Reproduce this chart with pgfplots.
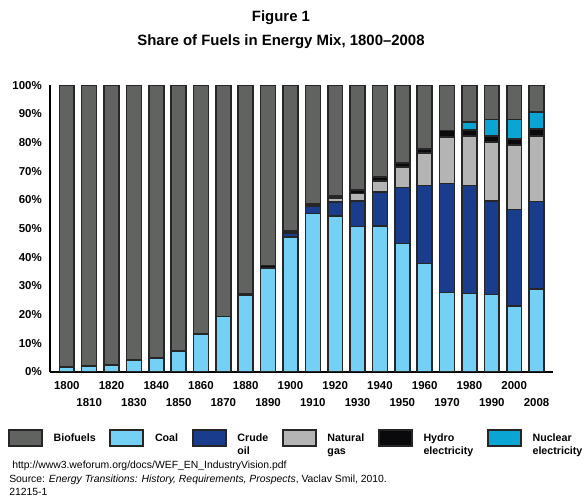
\documentclass[border=0pt]{standalone}
\usepackage{pgfplots}
\pgfplotsset{compat=1.18}
\usepackage{pgfplotstable}
\usepackage{fontspec}
\setmainfont{Liberation Sans}
\definecolor{biof}{HTML}{606360}
\definecolor{coalc}{HTML}{75D0F5}
\definecolor{oilc}{HTML}{1A3C8C}
\definecolor{gasc}{HTML}{B4B4B4}
\definecolor{hydroc}{HTML}{0A0A0C}
\definecolor{nucc}{HTML}{0AA5D2}
\definecolor{bordc}{HTML}{262626}
\newcommand\lab[1]{\raisebox{0pt}[6pt][0pt]{\begin{tabular}[t]{@{}l@{}}#1\end{tabular}}}
\pgfplotsset{mylegimg/.style={legend image code/.code={\draw[##1,line width=1.5pt] (0pt,-6pt) rectangle (24.75pt,6pt);}}}
\pgfplotstableread{
idx coal oil gas hydro nuclear bio
0 1.7 0 0 0 0 98.3
1 2.1 0 0 0 0 97.9
2 2.4 0 0 0 0 97.6
3 4.0 0 0 0 0 96.0
4 4.8 0 0 0 0 95.2
5 7.2 0 0 0 0 92.8
6 13.1 0 0 0 0 86.9
7 19.2 0 0 0 0 80.8
8 26.7 0 0 0.4 0 72.9
9 36.1 0.3 0 0.6 0 63.0
10 47.1 1.2 0 0.8 0 50.9
11 55.2 2.4 0.6 0.5 0 41.3
12 54.4 4.9 1.2 0.8 0 38.7
13 50.6 9.0 2.6 1.2 0 36.6
14 50.9 11.9 3.8 1.4 0 32.0
15 44.8 19.5 7.2 1.4 0 27.1
16 37.8 27.2 11.2 1.4 0 22.4
17 27.7 38.0 16.1 2.3 0 15.9
18 27.3 37.7 17.3 2.0 2.9 12.8
19 27.0 32.6 20.6 2.0 5.8 12.0
20 22.9 33.7 22.4 2.2 6.8 12.0
21 28.8 30.6 22.9 2.4 5.8 9.5
}\datatable
\begin{document}
\begin{tikzpicture}
\path (0,0) rectangle (441pt,375pt);
\node[font=\fontsize{11.2}{13}\selectfont\bfseries] at (210.75pt,361.5pt) {Figure 1};
\node[font=\fontsize{11.2}{13}\selectfont\bfseries] at (210.75pt,343.5pt) {Share of Fuels in Energy Mix, 1800–2008};
\begin{axis}[
  at={(37.5pt,96.2pt)}, anchor=south west,
  scale only axis, width=377.5pt, height=215pt,
  ybar stacked, bar width=11.2pt,
  xmin=-0.75, xmax=21.75, ymin=0, ymax=100,
  axis x line*=bottom, axis y line*=left,
  axis line style={line width=1.3pt, -, black},
  xtick={0,...,21},
  xticklabels={1800,1810,1820,1830,1840,1850,1860,1870,1880,1890,1900,1910,1920,1930,1940,1950,1960,1970,1980,1990,2000,2008},
  ytick={0,10,...,100},
  yticklabel={\pgfmathprintnumber{\tick}\%},
  major tick length=0pt,
  /pgf/number format/assume math mode=true,
  ticklabel style={font=\fontsize{8.6}{10}\selectfont\bfseries},
  xticklabel style={inner sep=0pt, anchor=north, yshift={-6.8pt-12.75pt*mod(\ticknum,2)}},
  yticklabel style={inner sep=0pt, anchor=east, xshift=-6pt},
  legend columns=6,
  legend cell align=left,
  legend style={at={(-0.0834,-0.1999)}, anchor=north west, draw=none, fill=none,
    inner sep=0pt, outer sep=0pt,
    font=\fontsize{8}{10}\selectfont\bfseries,
    nodes={inner sep=0pt, outer sep=0pt},
    /tikz/every odd column/.append style={column sep=8pt},
    /tikz/every even column/.append style={column sep=10.2pt}},
]
\addlegendimage{fill=biof, draw=bordc, mylegimg}
\addlegendentry{\lab{Biofuels}}
\addlegendimage{fill=coalc, draw=bordc, mylegimg}
\addlegendentry{\lab{Coal}}
\addlegendimage{fill=oilc, draw=bordc, mylegimg}
\addlegendentry{\lab{Crude\\oil}}
\addlegendimage{fill=gasc, draw=bordc, mylegimg}
\addlegendentry{\lab{Natural\\gas}}
\addlegendimage{fill=hydroc, draw=bordc, mylegimg}
\addlegendentry{\lab{Hydro\\electricity}}
\addlegendimage{fill=nucc, draw=bordc, mylegimg}
\addlegendentry{\lab{Nuclear\\electricity}}
\addplot[fill=coalc, draw=bordc, line width=1.2pt, forget plot] table[x=idx, y=coal]{\datatable};
\addplot[fill=oilc, draw=bordc, line width=1.2pt, forget plot] table[x=idx, y=oil]{\datatable};
\addplot[fill=gasc, draw=bordc, line width=1.2pt, forget plot] table[x=idx, y=gas]{\datatable};
\addplot[fill=hydroc, draw=bordc, line width=1.2pt, forget plot] table[x=idx, y=hydro]{\datatable};
\addplot[fill=nucc, draw=bordc, line width=1.2pt, forget plot] table[x=idx, y=nuclear]{\datatable};
\addplot[fill=biof, draw=bordc, line width=1.2pt, forget plot] table[x=idx, y=bio]{\datatable};
\end{axis}
\node[anchor=west, inner sep=0pt, font=\fontsize{7.8}{9}\selectfont] at (9pt,26pt) {http://www3.weforum.org/docs/WEF\_EN\_IndustryVision.pdf};
\node[anchor=west, inner sep=0pt, font=\fontsize{7.8}{9}\selectfont] at (6.75pt,15pt) {Source: \textit{Energy Transitions: History, Requirements, Prospects}, Vaclav Smil, 2010.};
\node[anchor=west, inner sep=0pt, font=\fontsize{7.8}{9}\selectfont] at (6.75pt,6pt) {21215-1};
\end{tikzpicture}
\end{document}
